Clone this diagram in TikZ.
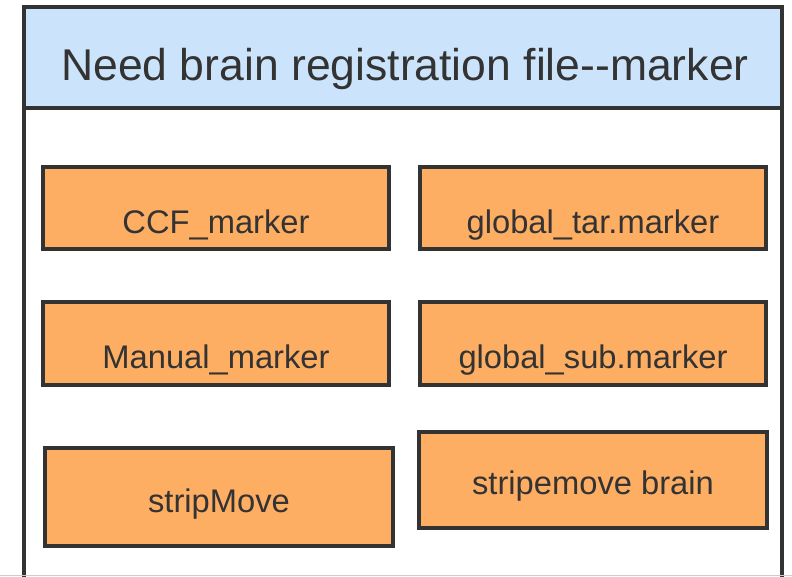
\documentclass[tikz,border=0pt]{standalone}
\usepackage{fontspec}
\setmainfont{Liberation Sans}
\definecolor{headblue}{HTML}{CCE4FB}
\definecolor{boxorange}{HTML}{FDAE63}
\definecolor{edgegray}{HTML}{333333}
\definecolor{inkgray}{HTML}{333333}
\tikzset{
  obox/.style={draw=edgegray, line width=3.5pt, fill=boxorange, inner sep=0pt,
    minimum width=#1},
  obox/.default=346pt,
  otext/.style={anchor=base, text=inkgray, inner sep=0pt, font=\fontsize{32.7}{38}\selectfont},
  frameline/.style={draw=edgegray, line width=3.2pt},
}
\begin{document}
\begin{tikzpicture}[x=1pt, y=1pt, yscale=-1]
\useasboundingbox (0,0) rectangle (792,576);
\fill[white] (0,0) rectangle (792,576);
\begin{scope}
\clip (0,0) rectangle (792,576);
% outer frame and header band
\fill[white] (24,7) rectangle (782,600);
\fill[headblue] (24,7) rectangle (782,108);
\draw[frameline] (24,600) -- (24,7) -- (782,7) -- (782,600);
\draw[frameline] (24,108) -- (782,108);
\draw[gray!40, line width=0.8pt] (0,575) -- (792,575);
\end{scope}
\node[anchor=base, text=inkgray, inner sep=0pt, font=\fontsize{44.5}{52}\selectfont]
  (title) at (405,80) {Need brain registration file-{}-marker};

% marker boxes
\node[obox, minimum height=82pt] (ccf) at (216,208) {};
\node[obox, minimum height=82pt] (gtar) at (593,208) {};
\node[obox, minimum height=83pt] (man) at (216,343.5) {};
\node[obox, minimum height=83pt] (gsub) at (593,343.5) {};
\node[obox=348pt, minimum height=98pt] (strip) at (219,497) {};
\node[obox=348pt, minimum height=96pt] (sbrain) at (593,480) {};

\node[otext] at ([yshift=25pt]ccf.center) {CCF\_marker};
\node[otext] at ([yshift=25pt]gtar.center) {global\_tar.marker};
\node[otext] at ([yshift=25pt]man.center) {Manual\_marker};
\node[otext] at ([yshift=25pt]gsub.center) {global\_sub.marker};
\node[otext] at ([yshift=15pt]strip.center) {stripMove};
\node[otext] at ([yshift=14pt]sbrain.center) {stripemove brain};
\end{tikzpicture}
\end{document}
